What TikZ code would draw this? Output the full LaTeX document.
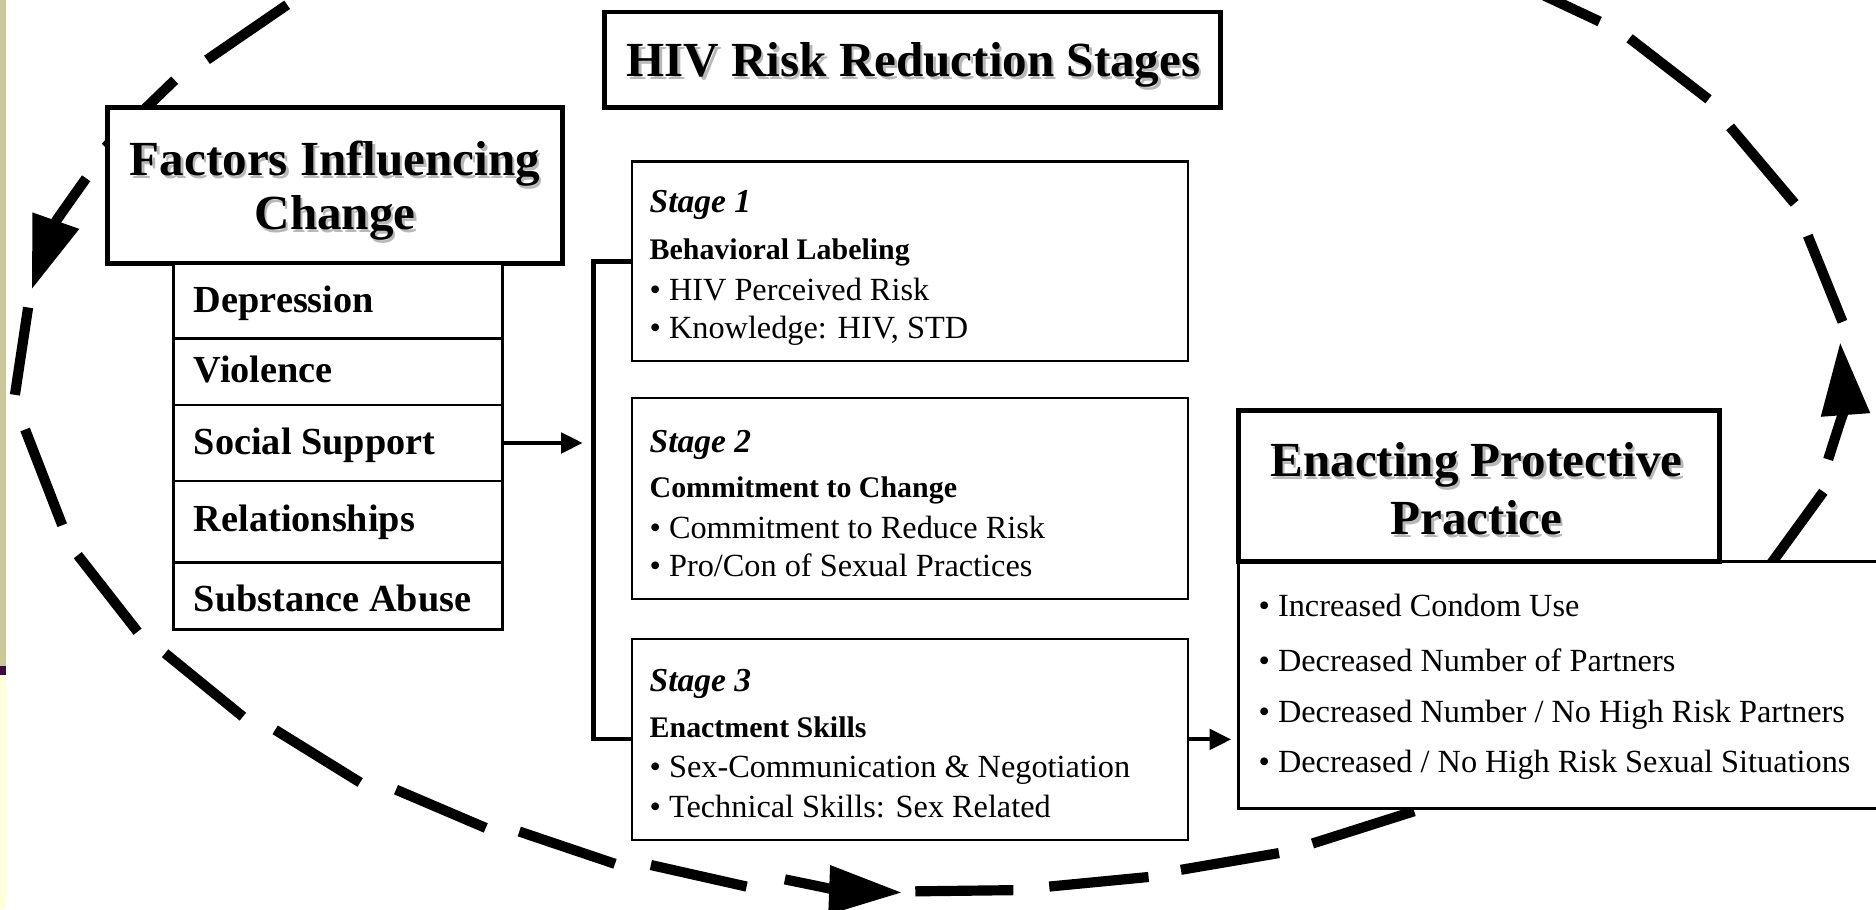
\documentclass[tikz,border=0pt]{standalone}
\usepackage{fontspec}
\setmainfont{Liberation Serif}
\usetikzlibrary{arrows.meta}
\definecolor{stripbeige}{HTML}{C9C899}
\definecolor{strippurple}{HTML}{3B0C3B}
\definecolor{stripcream}{HTML}{FFFFDC}
\begin{document}
\begin{tikzpicture}[x=1pt,y=-1pt,
  every node/.style={inner sep=0pt, outer sep=0pt},
  thickbox/.style={draw, line width=4pt, fill=white},
  thinbox/.style={draw, line width=1.8pt, fill=white},
  listbox/.style={draw, line width=2.3pt, fill=white},
  bigtxt/.style={anchor=base, font=\fontsize{41}{44}\selectfont\bfseries},
  shadowtxt/.style={bigtxt, text=black!28},
  bodytxt/.style={anchor=base west, font=\fontsize{27}{30}\selectfont},
  headtxt/.style={anchor=base west, font=\fontsize{25}{28}\selectfont\bfseries},
  stagetxt/.style={anchor=base west, font=\fontsize{28}{30}\selectfont\bfseries\itshape},
  itemtxt/.style={anchor=base west, font=\fontsize{32}{36}\selectfont\bfseries},
  conn/.style={line width=3.5pt, -{Triangle[length=18pt,width=17pt]}},
  loopdash/.style={line width=8.5pt},
  looparrow/.style={line width=8.5pt, -{Triangle[length=61pt,width=39pt]}},
]
\useasboundingbox (0,0) rectangle (1568,760);
\fill[white] (0,0) rectangle (1568,760);
% left strip
\fill[stripbeige] (0,0) rectangle (5,557);
\fill[strippurple] (0,557) rectangle (5,564);
\fill[stripcream] (0,564) rectangle (5,760);

% dashed cycle (drawn first, boxes cover it)
\foreach \p/\q in {
  {(240,4)}/{(173,50)}, {(146,67)}/{(88,123)},
  {(23.5,257)}/{(12.5,330)}, {(21,359)}/{(52,439)}, {(65,464)}/{(115,528)},
  {(138,546)}/{(203,599)}, {(230,610)}/{(301,654)}, {(331,660)}/{(406,692)},
  {(434,695)}/{(514,722)}, {(544,723)}/{(624,741)},
  {(765,745)}/{(847,744)}, {(877,741)}/{(960,733)}, {(987,727)}/{(1069,713)},
  {(1097,705)}/{(1182,678)}, {(1468,488)}/{(1524,411)},
  {(1540,269)}/{(1511,197)}, {(1500,170)}/{(1446,106)}, {(1428,83)}/{(1362,32)},
  {(1337,18)}/{(1288,-5)}}
  {\draw[loopdash] \p -- \q;}
\coordinate (la0) at (72,149);
\coordinate (la1) at (26.5,242);
\coordinate (ba0) at (656,735);
\coordinate (ba1) at (754,746);
\coordinate (ra0) at (1528,384);
\coordinate (ra1) at (1538,286);
\draw[looparrow] (la0) .. controls (46.5,185) .. (la1);
\draw[looparrow] (ba0) .. controls (700,744) .. (ba1);
\draw[looparrow] (ra0) .. controls (1542,340) .. (ra1);

% title
\node[thickbox, anchor=north west, minimum width=515pt, minimum height=80pt] (title) at (505,10) {};
\node[shadowtxt] (titlesh) at (765.5,66.5) {HIV Risk Reduction Stages};
\node[bigtxt] (titletx) at (763.5,64) {HIV Risk Reduction Stages};

% factors
\node[thickbox, anchor=north west, minimum width=380pt, minimum height=130pt] (factors) at (90,90) {};
\node[shadowtxt] (f1sh) at (282,149.5) {Factors Influencing};
\node[bigtxt] (f1) at (280,147) {Factors Influencing};
\node[shadowtxt] (f2sh) at (282,194.5) {Change};
\node[bigtxt] (f2) at (280,192) {Change};

\node[listbox, anchor=north west, minimum width=275pt, minimum height=63pt] (dep) at (145,220) {};
\node[listbox, anchor=north west, minimum width=275pt, minimum height=55.5pt] (vio) at (145,283) {};
\node[listbox, anchor=north west, minimum width=275pt, minimum height=63.5pt] (soc) at (145,338.5) {};
\node[listbox, anchor=north west, minimum width=275pt, minimum height=68pt] (rel) at (145,402) {};
\node[listbox, anchor=north west, minimum width=275pt, minimum height=56pt] (sub) at (145,470) {};
\node[itemtxt] (deptx) at (162,261) {Depression};
\node[itemtxt] (viotx) at (162,320) {Violence};
\node[itemtxt] (soctx) at (162,380) {Social Support};
\node[itemtxt] (reltx) at (162,444) {Relationships};
\node[itemtxt] (subtx) at (162,511) {Substance Abuse};

% stages
\node[thinbox, anchor=north west, minimum width=465pt, minimum height=167pt] (s1) at (528,135) {};
\node[thinbox, anchor=north west, minimum width=465pt, minimum height=168pt] (s2) at (528,333) {};
\node[thinbox, anchor=north west, minimum width=465pt, minimum height=168pt] (s3) at (528,534) {};

\node[stagetxt] (s1a) at (543,178) {Stage 1};
\node[headtxt] (s1b) at (543,217) {Behavioral Labeling};
\node[bodytxt] (s1c) at (543,251) {• HIV Perceived Risk};
\node[bodytxt] (s1d) at (543,283) {• Knowledge: HIV, STD};

\node[stagetxt] (s2a) at (543,378) {Stage 2};
\node[headtxt] (s2b) at (543,416) {Commitment to Change};
\node[bodytxt] (s2c) at (543,450) {• Commitment to Reduce Risk};
\node[bodytxt] (s2d) at (543,482) {• Pro/Con of Sexual Practices};

\node[stagetxt] (s3a) at (543,578) {Stage 3};
\node[headtxt] (s3b) at (543,616) {Enactment Skills};
\node[bodytxt] (s3c) at (543,650) {• Sex-Communication \& Negotiation};
\node[bodytxt] (s3d) at (543,683) {• Technical Skills: Sex Related};

% bracket and arrows
\coordinate (brx) at (496,0);
\draw[line width=3.5pt] (s1.west) -- (s1.west -| brx) -- (s3.west -| brx) -- (s3.west);
\draw[conn, shorten >=9pt] (soc.east) -- (soc.east -| brx);

% enacting
\node[listbox, anchor=north west, minimum width=560pt, minimum height=207pt] (elist) at (1035,469) {};
\node[thickbox, anchor=north west, minimum width=402pt, minimum height=126pt] (enact) at (1035,343) {};
\node[shadowtxt] (e1sh) at (1236,401) {Enacting Protective};
\node[bigtxt] (e1) at (1234,398.5) {Enacting Protective};
\node[shadowtxt] (e2sh) at (1236,449.5) {Practice};
\node[bigtxt] (e2) at (1234,447) {Practice};
\node[bodytxt] (ea) at (1052,515.5) {• Increased Condom Use};
\node[bodytxt] (eb) at (1052,561) {• Decreased Number of Partners};
\node[bodytxt] (ec) at (1052,604) {• Decreased Number / No High Risk Partners};
\node[bodytxt] (ed) at (1052,646) {• Decreased / No High Risk Sexual Situations};

\draw[conn, shorten >=6pt] (s3.east) -- (s3.east -| elist.west);
\end{tikzpicture}
\end{document}
